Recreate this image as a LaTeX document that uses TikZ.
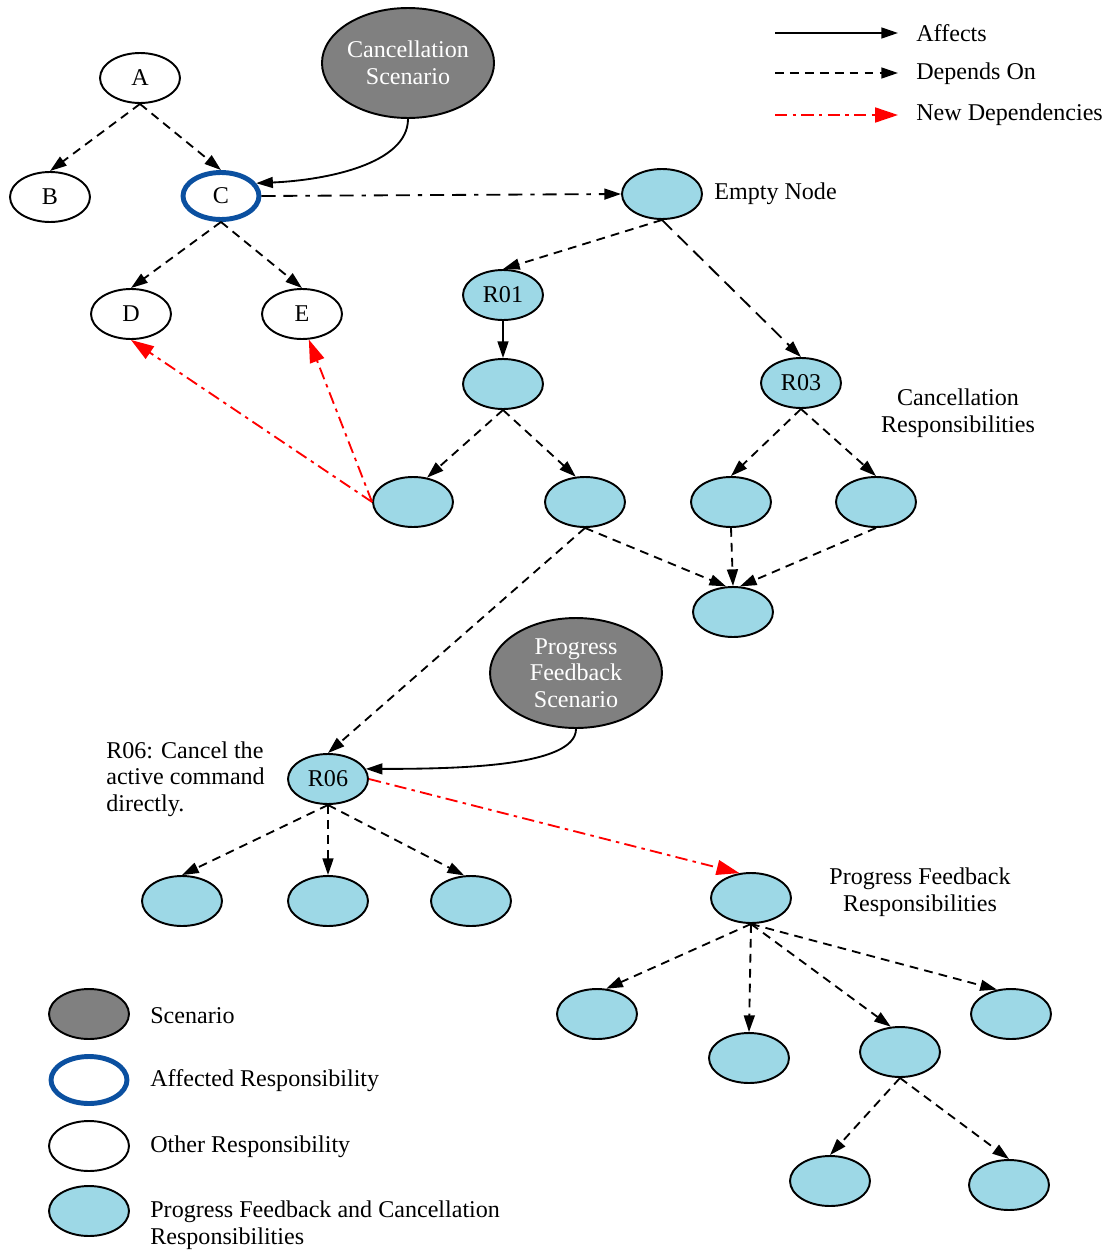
\documentclass[tikz,border=0pt]{standalone}
\usepackage{fontspec}
\setmainfont{Liberation Serif}
\usetikzlibrary{arrows.meta,shapes.geometric}
\definecolor{respfill}{HTML}{9DD8E6}
\definecolor{affblue}{HTML}{0B50A0}
\definecolor{scengray}{HTML}{808080}
\tikzset{
	resp/.style={ellipse, draw, line width=1.1pt, minimum width=1.6cm, minimum height=1cm, inner sep=0pt},
	pfcresp/.style={resp, fill=respfill},
	affresp/.style={resp, draw=affblue, line width=2.8pt, minimum width=1.52cm, minimum height=0.94cm},
	scen/.style={ellipse, draw, line width=1.1pt, fill=scengray, text=white, minimum width=3.44cm, minimum height=2.2cm, align=center, inner sep=0pt},
	affects/.style={line width=1.05pt, -{Triangle[length=9.5pt,width=6.2pt]}},
	depends/.style={affects, dash pattern=on 5pt off 3.5pt},
	newdep/.style={line width=1.05pt, red, dash pattern=on 7pt off 3pt on 2pt off 3pt, -{Triangle[length=13pt,width=8.5pt]}},
	lbl/.style={anchor=west, inner sep=0pt, align=left}
}

\begin{document}
\begin{tikzpicture}[x=0.02cm, y=-0.02cm, font=\fontsize{13.7}{15.2}\selectfont]
		%%%%% START %%%%%
		\useasboundingbox (0,0) rectangle (1115,1254);
		
		% other responsibilities
		\node[resp] (A) at (140,78) {A};
		\node[resp] (B) at (50,197) {B};
		\node[affresp] (C) at (221,196) {C};
		\node[resp] (D) at (131,314) {D};
		\node[resp] (E) at (302,314) {E};
		\node[scen] (cancscen) at (408,63) {Cancellation\\Scenario};
		
		\draw[depends] (A.south) -- (B.north);
		\draw[depends] (A.south) -- (C.north);
		\draw[depends] (C.south) -- (D.north);
		\draw[depends] (C.south) -- (E.north);
		\draw[affects] (cancscen.south) .. controls +(0,45) and +(70,-3) .. (C.20);
		
		% cancellation responsibilities
		\node[pfcresp] (empty) at (662,194) {};
		\node[lbl] (emptylbl) at (714,194) {Empty Node};
		\node[pfcresp] (r01) at (503,295) {R01};
		\node[pfcresp] (r01a) at (503,384) {};
		\node[pfcresp] (r03) at (801,383) {R03};
		\node[align=center] (canclbl) at (958,413) {Cancellation\\Responsibilities};
		\node[pfcresp] (cl1) at (413,502) {};
		\node[pfcresp] (cl2) at (585,502) {};
		\node[pfcresp] (cl3) at (731,502) {};
		\node[pfcresp] (cl4) at (876,502) {};
		\node[pfcresp] (cjoin) at (733,612) {};
		
		\draw[depends, dash pattern=on 8pt off 4.5pt on 8pt off 4.5pt on 2.5pt off 4.5pt] (C.east) -- (empty.west);
		\draw[depends] (empty.south) -- (r01.north);
		\draw[depends, dash pattern=on 8pt off 4.5pt] (empty.south) -- (r03.north);
		\draw[affects] (r01.south) -- (r01a.north);
		\draw[depends] (r01a.south) -- (cl1.60);
		\draw[depends] (r01a.south) -- (cl2.110);
		\draw[depends] (r03.south) -- (cl3.north);
		\draw[depends] (r03.south) -- (cl4.north);
		\draw[depends] (cl3.south) -- (cjoin.north);
		\draw[depends] (cl4.south) -- (cjoin.75);
		\draw[depends] (cl2.south) -- (cjoin.105);
		\draw[newdep] (cl1.west) -- (D.south);
		\draw[newdep] (cl1.west) -- (E.-75);
		
		% progress feedback responsibilities
		\node[scen] (pfscen) at (576,673) {Progress\\Feedback\\Scenario};
		\node[pfcresp] (r06) at (328,779) {R06};
		\node[lbl] (r06lbl) at (106,779) {R06: Cancel the\\active command\\directly.};
		\node[pfcresp] (r06a) at (182,901) {};
		\node[pfcresp] (r06b) at (328,901) {};
		\node[pfcresp] (r06c) at (471,901) {};
		\node[pfcresp] (pf) at (751,898) {};
		\node[align=center] (pflbl) at (920,892) {Progress Feedback\\Responsibilities};
		\node[pfcresp] (pfa) at (597,1014) {};
		\node[pfcresp] (pfb) at (749,1058) {};
		\node[pfcresp] (pfc) at (900,1052) {};
		\node[pfcresp] (pfd) at (1011,1014) {};
		\node[pfcresp] (pfca) at (830,1181) {};
		\node[pfcresp] (pfcb) at (1009,1185) {};
		
		\draw[depends] (cl2.south) -- (r06.north);
		\draw[affects] (pfscen.south) .. controls +(0,38) and +(90,0) .. (r06.15);
		\draw[depends] (r06.south) -- (r06a.north);
		\draw[depends] (r06.south) -- (r06b.north);
		\draw[depends] (r06.south) -- (r06c.105);
		\draw[newdep] (r06.east) -- (pf.115);
		\draw[depends] (pf.south) -- (pfa.70);
		\draw[depends] (pf.south) -- (pfb.north);
		\draw[depends] (pf.south) -- (pfc.110);
		\draw[depends] (pf.south) -- (pfd.120);
		\draw[depends] (pfc.south) -- (pfca.north);
		\draw[depends] (pfc.south) -- (pfcb.north);
		
		% key, arrows
		\coordinate (kaffa) at (775,33);
		\coordinate (kaffb) at (898,33);
		\coordinate (kdepa) at (775,73);
		\coordinate (kdepb) at (898,73);
		\coordinate (knewa) at (775,115);
		\coordinate (knewb) at (898,115);
		\draw[affects] (kaffa) -- (kaffb);
		\draw[depends] (kdepa) -- (kdepb);
		\draw[newdep] (knewa) -- (knewb);
		\node[lbl] (kafflbl) at (916,33) {Affects};
		\node[lbl] (kdeplbl) at (916,74) {Depends On};
		\node[lbl] (knewlbl) at (916,115) {New Dependencies};
		
		% key, nodes
		\node[resp, fill=scengray] (kscen) at (89,1014) {};
		\node[affresp] (kaff) at (89,1080) {};
		\node[resp] (koth) at (89,1146) {};
		\node[pfcresp] (kpfc) at (89,1211) {};
		\node[lbl] (kscenlbl) at (150,1016) {Scenario};
		\node[lbl] (kafflbl) at (150,1081) {Affected Responsibility};
		\node[lbl] (kothlbl) at (150,1147) {Other Responsibility};
		\node[lbl] (kpfclbl) at (150,1225) {Progress Feedback and Cancellation\\Responsibilities};
		
		%%%%% END %%%%%
	\end{tikzpicture}
\end{document}
